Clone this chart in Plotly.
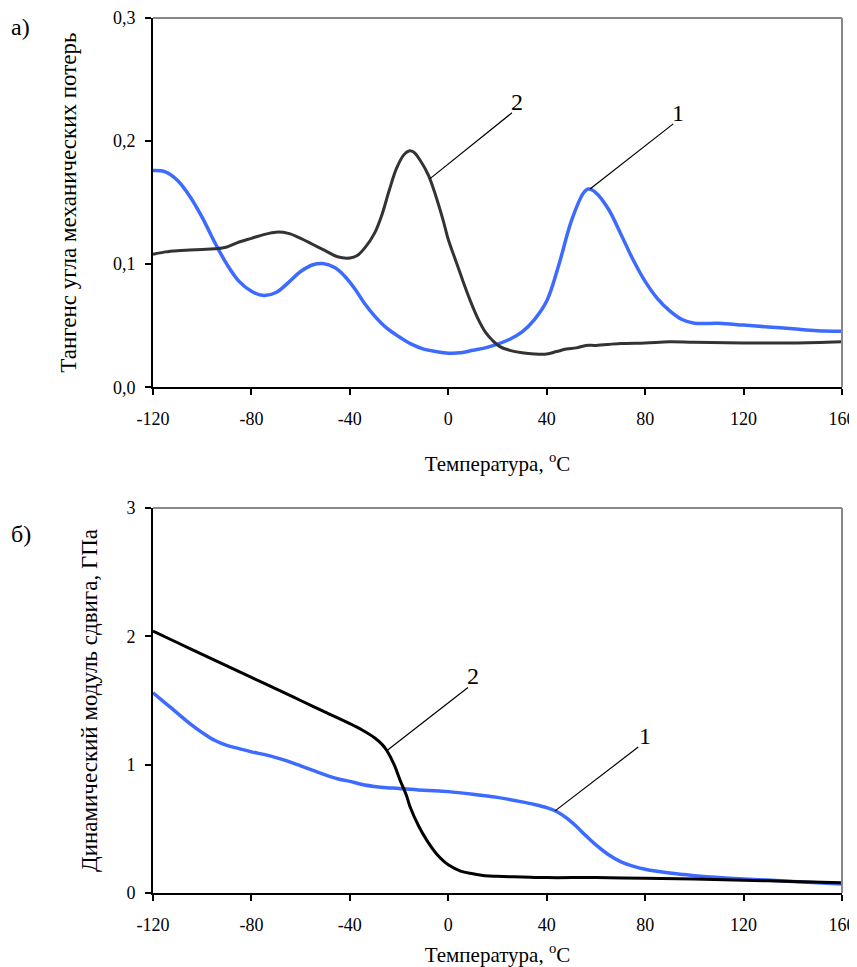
import plotly.graph_objects as go

# ---- Panel a): loss tangent ----
t_a1 = [-120, -115, -110, -105, -100, -95, -90, -85, -80, -75, -70, -65, -60, -55, -51, -46, -42, -38, -34, -30,
        -25, -20, -15, -10, -5, 0, 5, 10, 15, 20, 25, 30, 35, 40, 45, 50, 55, 57, 60, 65, 70, 75, 80, 85, 90, 95,
        100, 110, 120, 130, 140, 150, 160]
tan_a1 = [0.176, 0.175, 0.168, 0.155, 0.138, 0.118, 0.100, 0.086, 0.078, 0.0745, 0.077, 0.085, 0.094, 0.0995,
          0.1005, 0.097, 0.090, 0.080, 0.068, 0.058, 0.048, 0.041, 0.035, 0.031, 0.029, 0.0277, 0.028, 0.030,
          0.032, 0.035, 0.039, 0.045, 0.055, 0.070, 0.100, 0.135, 0.158, 0.161, 0.158, 0.145, 0.125, 0.104,
          0.086, 0.072, 0.062, 0.055, 0.052, 0.052, 0.0505, 0.049, 0.0475, 0.046, 0.0455]

t_a2 = [-120, -115, -110, -105, -100, -95, -90, -85, -80, -75, -70, -65, -60, -55, -50, -45, -40, -37, -34, -30,
        -27, -24, -21, -18, -16, -14, -11, -8, -5, -2, 0, 3, 6, 9, 12, 15, 18, 21, 25, 30, 35, 40, 44, 48, 52,
        56, 60, 70, 80, 90, 100, 120, 140, 160]
tan_a2 = [0.108, 0.110, 0.111, 0.1115, 0.112, 0.1125, 0.114, 0.118, 0.121, 0.124, 0.126, 0.125, 0.121, 0.116,
          0.111, 0.106, 0.105, 0.107, 0.113, 0.125, 0.140, 0.160, 0.178, 0.189, 0.192, 0.191, 0.183, 0.172,
          0.155, 0.135, 0.120, 0.103, 0.086, 0.070, 0.056, 0.045, 0.038, 0.033, 0.030, 0.028, 0.027, 0.027,
          0.029, 0.031, 0.032, 0.034, 0.034, 0.0355, 0.036, 0.037, 0.0365, 0.036, 0.036, 0.037]

# ---- Panel б): dynamic shear modulus, GPa ----
t_b1 = [-120, -115, -110, -105, -100, -95, -90, -85, -80, -75, -70, -65, -60, -55, -50, -45, -40, -35, -30, -25,
        -20, -10, 0, 10, 20, 30, 35, 40, 44, 48, 52, 56, 60, 65, 70, 75, 80, 90, 100, 110, 120, 140, 160]
g_b1 = [1.56, 1.48, 1.40, 1.32, 1.25, 1.19, 1.15, 1.125, 1.10, 1.08, 1.055, 1.025, 0.99, 0.955, 0.92, 0.89,
        0.87, 0.845, 0.83, 0.82, 0.815, 0.80, 0.79, 0.77, 0.745, 0.71, 0.69, 0.665, 0.635, 0.585, 0.52, 0.445,
        0.375, 0.30, 0.245, 0.21, 0.185, 0.155, 0.135, 0.12, 0.11, 0.09, 0.07]

t_b2 = [-120, -110, -100, -90, -80, -70, -60, -50, -40, -35, -30, -27, -25, -22, -19.6, -17, -15.5, -12, -8.7,
        -5, -2, 0, 5, 10, 15, 20, 30, 40, 60, 80, 100, 120, 140, 160]
g_b2 = [2.04, 1.95, 1.86, 1.77, 1.68, 1.59, 1.50, 1.41, 1.32, 1.27, 1.21, 1.16, 1.11, 1.00, 0.88, 0.76, 0.67,
        0.52, 0.41, 0.31, 0.25, 0.22, 0.17, 0.15, 0.135, 0.13, 0.125, 0.12, 0.12, 0.115, 0.11, 0.10, 0.09, 0.08]

x_ticks = [-120, -80, -40, 0, 40, 80, 120, 160]
x_labels = ["-120", "-80", "-40", "0", "40", "80", "120", "160"]

FONT = "Liberation Serif"
BLUE = "#3D6BFF"

fig = go.Figure()
fig.add_trace(go.Scatter(x=t_a1, y=tan_a1, mode="lines", line=dict(color=BLUE, width=3.5, shape="spline"),
                         xaxis="x", yaxis="y", showlegend=False))
fig.add_trace(go.Scatter(x=t_a2, y=tan_a2, mode="lines", line=dict(color="#333333", width=3, shape="spline"),
                         xaxis="x", yaxis="y", showlegend=False))
fig.add_trace(go.Scatter(x=t_b1, y=g_b1, mode="lines", line=dict(color=BLUE, width=3.5, shape="spline"),
                         xaxis="x2", yaxis="y2", showlegend=False))
fig.add_trace(go.Scatter(x=t_b2, y=g_b2, mode="lines", line=dict(color="#000000", width=3, shape="spline"),
                         xaxis="x2", yaxis="y2", showlegend=False))

axis_common = dict(showline=True, linecolor="black", linewidth=2, ticks="outside", ticklen=6,
                   tickcolor="black", tickwidth=1.5, showgrid=False, zeroline=False, automargin=False,
                   ticklabeloverflow="allow",
                   tickfont=dict(family=FONT, size=18, color="black"))

def xtitle(standoff):
    return dict(text="Температура, <sup>o</sup>C", font=dict(family=FONT, size=21, color="black"),
                standoff=standoff)

fig.update_layout(
    xaxis=dict(range=[-120, 160], tickvals=x_ticks, ticktext=x_labels, anchor="y", domain=[0, 1],
               ticklabelstandoff=8, title=xtitle(28), **axis_common),
    yaxis=dict(range=[0, 0.3], tickvals=[0, 0.1, 0.2, 0.3], tickformat=".1f", anchor="x", domain=[0.578, 1],
               ticklabelstandoff=6,
               title=dict(text="Тангенс угла механических потерь", font=dict(family=FONT, size=23, color="black"),
                          standoff=30),
               **axis_common),
    xaxis2=dict(range=[-120, 160], tickvals=x_ticks, ticktext=x_labels, anchor="y2", domain=[0, 1],
                ticklabelstandoff=8, title=xtitle(19), **axis_common),
    yaxis2=dict(range=[0, 3], tickvals=[0, 1, 2, 3], anchor="x2", domain=[0, 0.44],
                ticklabelstandoff=6,
                title=dict(text="Динамический модуль сдвига, ГПа", font=dict(family=FONT, size=23, color="black"),
                           standoff=22),
                **axis_common),
)

# gray top / right frame lines
for xr, yr in (("x domain", "y domain"), ("x2 domain", "y2 domain")):
    fig.add_shape(type="line", xref=xr, yref=yr, x0=0, x1=1, y0=1, y1=1, line=dict(color="#888888", width=2))
    fig.add_shape(type="line", xref=xr, yref=yr, x0=1, x1=1, y0=0, y1=1, line=dict(color="#888888", width=2))

# leader lines and curve numbers
leaders = [
    ("x", "y", -7.4, 0.1695, 25.9, 0.223, 27.8, 0.232, "2"),
    ("x", "y", 57.6, 0.161, 91.4, 0.214, 93.2, 0.223, "1"),
    ("x2", "y2", -24.9, 1.111, 8.0, 1.601, 10.2, 1.69, "2"),
    ("x2", "y2", 43.4, 0.64, 77.2, 1.137, 79.8, 1.225, "1"),
]
for xr, yr, x0, y0, x1, y1, tx, ty, txt in leaders:
    fig.add_shape(type="line", xref=xr, yref=yr, x0=x0, y0=y0, x1=x1, y1=y1, line=dict(color="black", width=1.2))
    fig.add_annotation(xref=xr, yref=yr, x=tx, y=ty, text=txt, showarrow=False,
                       font=dict(family=FONT, size=24, color="black"))

fig.add_annotation(xref="paper", yref="paper", x=-0.192, y=0.99, xanchor="center", yanchor="middle", text="а)",
                   showarrow=False, font=dict(family=FONT, size=24, color="black"))
fig.add_annotation(xref="paper", yref="paper", x=-0.192, y=0.41, xanchor="center", yanchor="middle", text="б)",
                   showarrow=False, font=dict(family=FONT, size=24, color="black"))

# page body has an 8 px margin, so the figure is offset by 8 px
fig.update_layout(width=849, height=959, margin=dict(l=145, r=15, t=10, b=74, autoexpand=False),
                  plot_bgcolor="white", paper_bgcolor="white", separators=", ",
                  font=dict(family=FONT, color="black"))

fig.write_html("out.html")
